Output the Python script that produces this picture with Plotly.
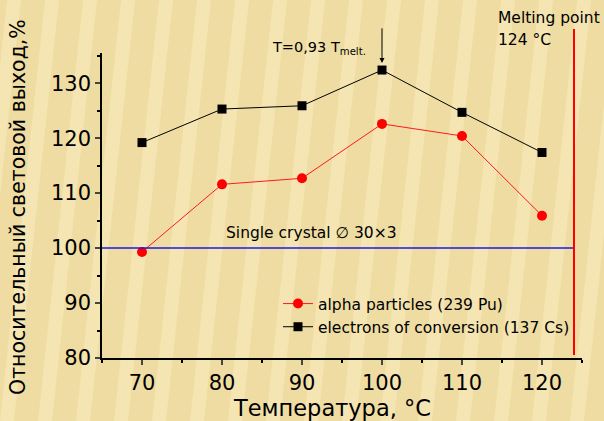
import plotly.graph_objects as go

temps = [70, 80, 90, 100, 110, 120]
alpha = [99.3, 111.6, 112.7, 122.6, 120.4, 105.9]
electrons = [119.2, 125.3, 125.9, 132.4, 124.7, 117.4]
melting = 124
single_crystal = 100
xticks = [70, 80, 90, 100, 110, 120]
yticks = [80, 90, 100, 110, 120, 130]

FONT = "DejaVu Sans, Verdana, sans-serif"

fig = go.Figure()

W, H = 604, 421
L, R, T, B = 102, 22, 53, 63
pw, ph = W - L - R, H - T - B
def P(x, y):
    return (x - L) / pw, (H - B - y) / ph

# subtle background stripes (decorative)
shapes = []
period = 38
for k in range(-3, 19):
    x0 = k * period
    pts = [(x0, H), (x0 + 14, H), (x0 + 14 + 45, 0), (x0 + 45, 0)]
    path = "M " + " L ".join(f"{P(a, b)[0]:.4f},{P(a, b)[1]:.4f}" for a, b in pts) + " Z"
    shapes.append(dict(type="path", xref="paper", yref="paper", path=path,
                       fillcolor="rgba(255,247,210,0.35)", line=dict(width=0), layer="below"))

fig.add_trace(go.Scatter(x=temps, y=alpha, mode="lines+markers", name="alpha particles (239 Pu)",
                         line=dict(color="#ff1a1a", width=1),
                         marker=dict(color="#ff0000", size=10, symbol="circle")))
fig.add_trace(go.Scatter(x=temps, y=electrons, mode="lines+markers", name="electrons of conversion (137 Cs)",
                         line=dict(color="black", width=1),
                         marker=dict(color="black", size=9, symbol="square")))

shapes.append(dict(type="line", xref="x", yref="y", x0=65, x1=melting, y0=single_crystal, y1=single_crystal,
                   line=dict(color="#1a1ae6", width=1.5)))
shapes.append(dict(type="line", xref="x", yref="paper", x0=melting, x1=melting,
                   y0=P(0, 355)[1], y1=P(0, 29)[1],
                   line=dict(color="#ff0000", width=2)))

def txt(text, x, y, size, xanchor="left", angle=0):
    return dict(text=text, showarrow=False, xref="paper", yref="paper",
                x=P(x, y)[0], y=P(x, y)[1], xanchor=xanchor, yanchor="middle", textangle=angle,
                font=dict(family=FONT, size=size, color="black"))

annotations = [
    dict(x=100, y=133.7, xref="x", yref="y", ax=0, ay=-43, text=" ", showarrow=True,
         arrowhead=2, arrowsize=1, arrowwidth=1, arrowcolor="black"),
    txt("T=0,93 T<sub>melt.</sub>", 270, 48, 14.5),
    txt("Single crystal \u2205 30\u00d73", 311, 233, 15.5, "center"),
    txt("Melting point", 496, 18, 15.5),
    txt("124 \u00b0C", 496, 40, 15.5),
    txt("Температура, \u00b0C", 332, 408, 22.5, "center"),
    txt("Относительный световой выход,%", 18, 207, 20.5, "center", -90),
]

fig.update_layout(
    width=W, height=H,
    margin=dict(l=L, r=R, t=T, b=B),
    paper_bgcolor="#EFDCA2",
    plot_bgcolor="rgba(0,0,0,0)",
    font=dict(family=FONT, color="black"),
    shapes=shapes,
    annotations=annotations,
    showlegend=True,
    legend=dict(x=P(278, 0)[0], y=P(0, 287)[1], xanchor="left", yanchor="top",
                bgcolor="rgba(0,0,0,0)", font=dict(family=FONT, size=15.5, color="black"),
                tracegroupgap=0, itemwidth=30),
    xaxis=dict(range=[65, 125], tickvals=xticks, ticks="outside", ticklen=5, tickwidth=1.5,
               showline=True, linecolor="black", linewidth=1.5, showgrid=False, zeroline=False,
               tickfont=dict(family=FONT, size=21, color="black"),
               minor=dict(dtick=5, tick0=65, ticks="outside", ticklen=3, tickwidth=1.5, tickcolor="black", showgrid=False)),
    yaxis=dict(range=[80, 135.5], tickvals=yticks, ticks="outside", ticklen=5, tickwidth=1.5,
               showline=True, linecolor="black", linewidth=1.5, showgrid=False, zeroline=False,
               tickfont=dict(family=FONT, size=21, color="black"),
               minor=dict(dtick=5, tick0=80, ticks="outside", ticklen=3, tickwidth=1.5, tickcolor="black", showgrid=False)),
)

fig.write_html("out.html")
